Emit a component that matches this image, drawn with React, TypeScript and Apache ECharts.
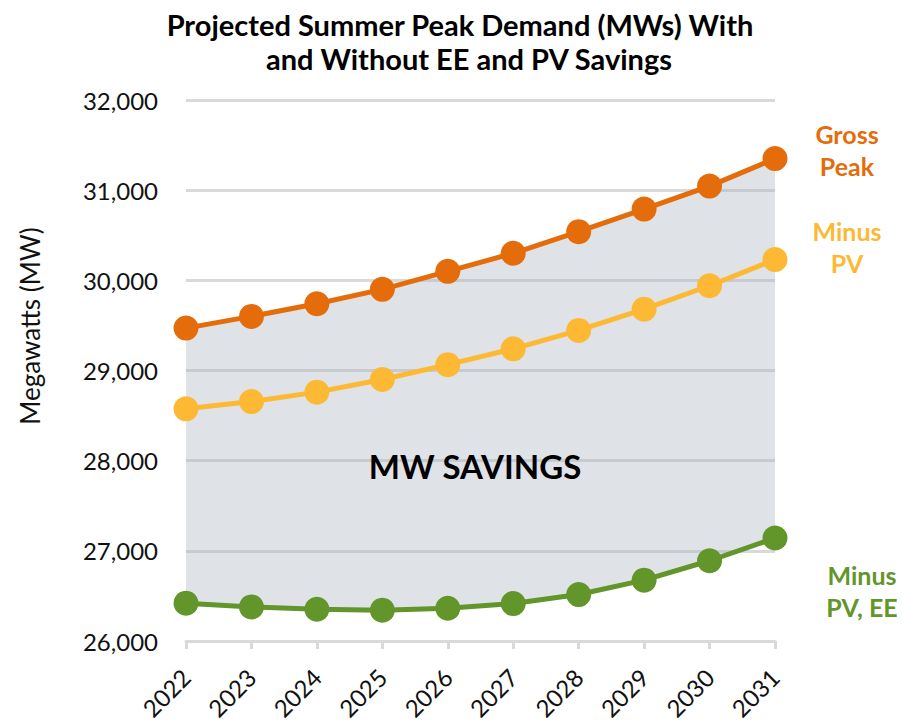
import React, { useEffect, useRef } from "react";
import * as echarts from "echarts";

const years = ["2022", "2023", "2024", "2025", "2026", "2027", "2028", "2029", "2030", "2031"];
const grossPeak = [29470, 29600, 29740, 29900, 30100, 30300, 30540, 30790, 31045, 31350];
const minusPV = [28575, 28655, 28760, 28900, 29065, 29240, 29445, 29680, 29940, 30230];
const minusPVEE = [26420, 26378, 26352, 26342, 26363, 26415, 26515, 26675, 26890, 27142];
const yTicks = [26000, 27000, 28000, 29000, 30000, 31000, 32000];

const ORANGE = "#E46C0A";
const YELLOW = "#FDB933";
const GREEN = "#62952A";
const FONT = "Lato";

export default function App() {
  const ref = useRef<HTMLDivElement>(null);
  useEffect(() => {
    if (!ref.current) return;
    const chart = echarts.init(ref.current, undefined, { renderer: "svg" });
    const band = grossPeak.map((v, i) => v - minusPVEE[i]);
    const lineSeries = (name: string, data: number[], color: string) => ({
      name,
      type: "line",
      data,
      z: 5,
      symbol: "circle",
      symbolSize: 25,
      lineStyle: { color, width: 5 },
      itemStyle: { color },
      emphasis: { disabled: true },
    });
    const sideLabel = (text: string, x: number, y: number, color: string) => ({
      type: "text",
      x,
      y,
      style: {
        text,
        fontFamily: FONT,
        fontWeight: "bold",
        fontSize: 25,
        lineHeight: 32,
        fill: color,
        align: "center",
        verticalAlign: "middle",
      },
    });
    chart.setOption({
      animation: false,
      grid: { left: 186, right: 127, top: 100, bottom: 82, containLabel: false, outerBoundsMode: "none" },
      xAxis: {
        type: "category",
        data: years,
        boundaryGap: false,
        axisLine: { lineStyle: { color: "#D9D9D9", width: 3 } },
        axisTick: { show: true, length: 8, lineStyle: { color: "#D9D9D9", width: 3 } },
        axisLabel: {
          rotate: 45,
          fontFamily: FONT,
          fontSize: 24,
          color: "#111",
          margin: 32,
        },
        splitLine: { show: false },
      },
      yAxis: {
        type: "value",
        min: yTicks[0],
        max: yTicks[yTicks.length - 1],
        interval: 1000,
        axisLine: { show: false },
        axisTick: { show: false },
        axisLabel: {
          fontFamily: FONT,
          fontSize: 24,
          color: "#111",
          margin: 28,
          formatter: (v: number) => v.toLocaleString("en-US"),
        },
        splitLine: { lineStyle: { color: "#D9D9D9", width: 3 } },
      },
      series: [
        {
          name: "base",
          type: "line",
          stack: "band",
          data: minusPVEE,
          symbol: "none",
          lineStyle: { opacity: 0 },
          silent: true,
          z: 1,
        },
        {
          name: "savings",
          type: "line",
          stack: "band",
          data: band,
          symbol: "none",
          lineStyle: { opacity: 0 },
          areaStyle: { color: "rgba(172,179,188,0.38)", opacity: 1 },
          silent: true,
          z: 1,
        },
        lineSeries("Gross Peak", grossPeak, ORANGE),
        lineSeries("Minus PV", minusPV, YELLOW),
        lineSeries("Minus PV, EE", minusPVEE, GREEN),
      ],
      graphic: [
        {
          type: "text",
          x: 460,
          y: 24,
          style: {
            text: "Projected Summer Peak Demand (MWs) With",
            fontFamily: FONT,
            fontWeight: "bold",
            fontSize: 29,
            fill: "#000",
            align: "center",
            verticalAlign: "middle",
          },
        },
        {
          type: "text",
          x: 469,
          y: 58,
          style: {
            text: "and Without EE and PV Savings",
            fontFamily: FONT,
            fontWeight: "bold",
            fontSize: 29,
            fill: "#000",
            align: "center",
            verticalAlign: "middle",
          },
        },
        {
          type: "text",
          x: 30,
          y: 326,
          rotation: Math.PI / 2,
          style: {
            text: "Megawatts (MW)",
            fontFamily: FONT,
            fontSize: 26,
            fill: "#111",
            align: "center",
            verticalAlign: "middle",
          },
        },
        {
          type: "text",
          x: 475,
          y: 466,
          z: 10,
          style: {
            text: "MW SAVINGS",
            fontFamily: FONT,
            fontWeight: "bold",
            fontSize: 33,
            fill: "#000",
            align: "center",
            verticalAlign: "middle",
          },
        },
        sideLabel("Gross\nPeak", 847, 150, ORANGE),
        sideLabel("Minus\nPV", 847, 247, YELLOW),
        sideLabel("Minus\nPV, EE", 862, 591, GREEN),
      ],
    });
    return () => chart.dispose();
  }, []);
  return (
    <div
      ref={ref}
      style={{ position: "fixed", left: 0, top: 0, width: 902, height: 723, background: "#fff" }}
    />
  );
}
